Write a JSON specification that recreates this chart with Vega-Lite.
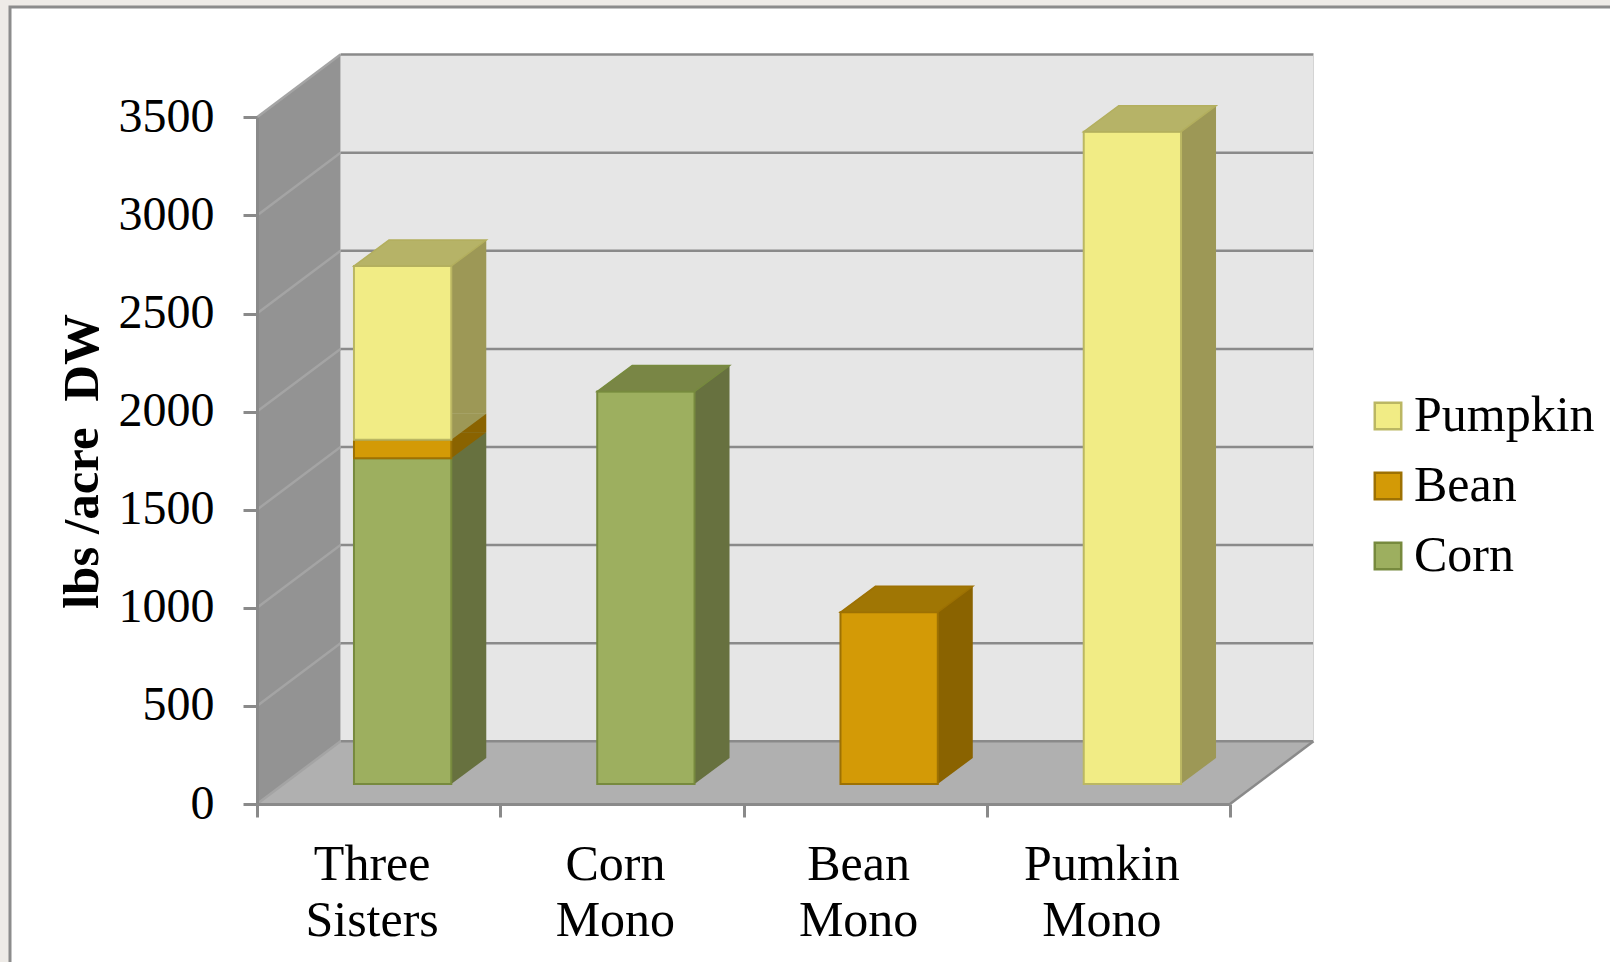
{
  "$schema": "https://vega.github.io/schema/vega-lite/v6.json",
  "width": 1600,
  "height": 955,
  "autosize": {"type": "none"},
  "padding": {"left": 10, "top": 7, "right": 0, "bottom": 0},
  "background": "#eeebe7",
  "config": {
    "view": {"fill": "#ffffff", "stroke": "#8c8c8c", "strokeWidth": 3, "strokeDash": [1600, 2555, 955]},
    "font": "Liberation Serif"
  },
  "datasets": {
    "yield": [
      {"system": "Three Sisters", "crop": "Corn", "lbs": 1660},
      {"system": "Three Sisters", "crop": "Bean", "lbs": 95},
      {"system": "Three Sisters", "crop": "Pumpkin", "lbs": 885},
      {"system": "Corn Mono", "crop": "Corn", "lbs": 2000},
      {"system": "Bean Mono", "crop": "Bean", "lbs": 875},
      {"system": "Pumkin Mono", "crop": "Pumpkin", "lbs": 3325}
    ],
    "grid": [
      {"v": 0}, {"v": 500}, {"v": 1000}, {"v": 1500},
      {"v": 2000}, {"v": 2500}, {"v": 3000}, {"v": 3500}
    ]
  },
  "resolve": {"scale": {"x": "independent"}, "axis": {"x": "independent"}},
  "layer": [
    {
      "layer": [
        {
          "data": {"values": [{}]},
          "mark": {"type": "rect", "fill": "#e6e6e6", "xOffset": 83.5, "x2Offset": 83.5, "yOffset": -62.7, "y2Offset": -62.7},
          "encoding": {
            "x": {"datum": 0, "type": "quantitative", "scale": {"domain": [0, 4], "range": [247, 1220], "nice": false, "zero": false}, "axis": null},
            "x2": {"datum": 4},
            "y": {"datum": 0, "type": "quantitative"},
            "y2": {"datum": 3500}
          }
        },
        {
          "data": {"values": [{}]},
          "mark": {"type": "point", "shape": "M0,0L0,-686.7L83.5,-749.4L83.5,-62.7Z", "size": 4, "filled": true, "fill": "#939393", "opacity": 1, "strokeWidth": 0},
          "encoding": {
            "x": {"datum": 0, "type": "quantitative", "axis": null},
            "y": {"datum": 0, "type": "quantitative"}
          }
        },
        {
          "data": {"values": [{}]},
          "mark": {"type": "point", "shape": "M0,0L973,0L1056.5,-62.7L83.5,-62.7Z", "size": 4, "filled": true, "fill": "#b0b0b0", "opacity": 1, "strokeWidth": 0},
          "encoding": {
            "x": {"datum": 0, "type": "quantitative", "axis": null},
            "y": {"datum": 0, "type": "quantitative"}
          }
        },
        {
          "data": {"name": "grid"},
          "mark": {"type": "rule", "color": "#8a8a8a", "strokeWidth": 2.5, "xOffset": 83.5, "x2Offset": 83.5, "yOffset": -62.7, "y2Offset": -62.7},
          "encoding": {
            "x": {"datum": 0, "type": "quantitative", "axis": null},
            "x2": {"datum": 4},
            "y": {"field": "v", "type": "quantitative"},
            "y2": {"field": "v"}
          }
        },
        {
          "data": {"name": "grid"},
          "mark": {"type": "rule", "color": "#a4a4a4", "strokeWidth": 2.5, "x2Offset": 83.5, "y2Offset": -62.7},
          "encoding": {
            "x": {"datum": 0, "type": "quantitative", "axis": null},
            "x2": {"datum": 0},
            "y": {"field": "v", "type": "quantitative"},
            "y2": {"field": "v"}
          }
        },
        {
          "data": {"values": [{}]},
          "mark": {"type": "rule", "color": "#8a8a8a", "strokeWidth": 2.5, "x2Offset": 83.5, "y2Offset": -62.7},
          "encoding": {
            "x": {"datum": 4, "type": "quantitative", "axis": null},
            "x2": {"datum": 4},
            "y": {"datum": 0, "type": "quantitative"},
            "y2": {"datum": 0}
          }
        },
        {
          "data": {"values": [{}]},
          "mark": {"type": "rule", "color": "#d4d4d4", "strokeWidth": 1, "xOffset": 83.5, "x2Offset": 83.5, "yOffset": -62.7, "y2Offset": -62.7},
          "encoding": {
            "x": {"datum": 4, "type": "quantitative", "axis": null},
            "x2": {"datum": 4},
            "y": {"datum": 0, "type": "quantitative"},
            "y2": {"datum": 3500}
          }
        }
      ]
    },
    {
      "data": {"name": "yield"},
      "transform": [
        {"stack": "lbs", "groupby": ["system"], "as": ["v0", "v1"], "offset": "zero"}
      ],
      "encoding": {
        "x": {
          "field": "system",
          "type": "nominal",
          "sort": ["Three Sisters", "Corn Mono", "Bean Mono", "Pumkin Mono"],
          "scale": {"range": [247, 1220], "paddingInner": 0, "paddingOuter": 0},
          "axis": {
            "title": null,
            "orient": "bottom",
            "offset": -158,
            "zindex": 1,
            "domainColor": "#8a8a8a",
            "domainWidth": 3,
            "tickColor": "#8a8a8a",
            "tickWidth": 3,
            "tickSize": 13,
            "tickBand": "extent",
            "labelAngle": 0,
            "labelFont": "Liberation Serif",
            "labelFontSize": 50,
            "labelColor": "#000000",
            "labelPadding": 22,
            "labelOffset": -7,
            "labelLineHeight": 56,
            "labelOverlap": false,
            "labelLimit": 0,
            "labelExpr": "split(datum.label, ' ')"
          }
        },
        "y": {
          "field": "v1",
          "type": "quantitative",
          "scale": {"domain": [0, 3500], "range": [797, 110.3], "nice": false},
          "axis": {
            "title": "lbs /acre\u00a0 DW",
            "orient": "left",
            "offset": -247,
            "zindex": 1,
            "values": [0, 500, 1000, 1500, 2000, 2500, 3000, 3500],
            "format": "d",
            "grid": false,
            "domainColor": "#8a8a8a",
            "domainWidth": 3,
            "tickColor": "#8a8a8a",
            "tickWidth": 3,
            "tickSize": 14,
            "labelFont": "Liberation Serif",
            "labelFontSize": 48,
            "labelColor": "#000000",
            "labelPadding": 29,
            "titleFont": "Liberation Serif",
            "titleFontSize": 51,
            "titleFontWeight": "bold",
            "titleColor": "#000000",
            "titleAngle": -90,
            "titleAlign": "center",
            "titleBaseline": "middle",
            "titleX": -175,
            "titleY": 454
          }
        }
      },
      "layer": [
        {
          "mark": {"type": "bar", "width": {"band": 0.4}, "xOffset": 59, "yOffset": -46, "y2Offset": -46},
          "encoding": {
            "y2": {"field": "v0"},
            "fill": {
              "condition": [
                {"test": "datum.crop === 'Corn'", "value": "#67713f"},
                {"test": "datum.crop === 'Bean'", "value": "#8a6300"}
              ],
              "value": "#9d9856"
            }
          }
        },
        {
          "mark": {"type": "point", "shape": "M72.65,-46L72.65,-20L107.65,-46Z", "size": 4, "filled": true, "opacity": 1, "strokeWidth": 0},
          "encoding": {
            "y": {"field": "v0", "type": "quantitative"},
            "fill": {
              "condition": [
                {"test": "datum.crop === 'Corn'", "value": "#67713f"},
                {"test": "datum.crop === 'Bean'", "value": "#8a6300"}
              ],
              "value": "#9d9856"
            }
          }
        },
        {
          "mark": {"type": "bar", "width": {"band": 0.4}, "xOffset": 24, "yOffset": -20, "y2Offset": -20, "strokeWidth": 2},
          "encoding": {
            "y2": {"field": "v0"},
            "fill": {
              "field": "crop",
              "type": "nominal",
              "scale": {"domain": ["Pumpkin", "Bean", "Corn"], "range": ["#f1ec85", "#d39a06", "#9daf5f"]},
              "legend": {
                "title": null,
                "orient": "none",
                "legendX": 1353,
                "legendY": 384,
                "direction": "vertical",
                "padding": 0,
                "symbolType": "square",
                "symbolSize": 700,
                "symbolStrokeWidth": 2.5,
                "labelFont": "Liberation Serif",
                "labelFontSize": 50,
                "labelColor": "#000000",
                "labelOffset": 1,
                "labelLimit": 0,
                "rowPadding": 20
              }
            },
            "stroke": {
              "field": "crop",
              "type": "nominal",
              "scale": {"domain": ["Pumpkin", "Bean", "Corn"], "range": ["#bbb763", "#9d7103", "#778a3e"]},
              "legend": {
                "title": null,
                "orient": "none",
                "legendX": 1353,
                "legendY": 384,
                "direction": "vertical",
                "padding": 0,
                "symbolType": "square",
                "symbolSize": 700,
                "symbolStrokeWidth": 2.5,
                "labelFont": "Liberation Serif",
                "labelFontSize": 50,
                "labelColor": "#000000",
                "labelOffset": 1,
                "labelLimit": 0,
                "rowPadding": 20
              }
            }
          }
        },
        {
          "transform": [
            {"joinaggregate": [{"op": "max", "field": "v1", "as": "peak"}], "groupby": ["system"]},
            {"filter": "datum.v1 === datum.peak"}
          ],
          "mark": {"type": "point", "shape": "M-24.65,-20L72.65,-20L107.65,-46L10.35,-46Z", "size": 4, "filled": true, "opacity": 1, "strokeWidth": 1.5},
          "encoding": {
            "fill": {
              "condition": [
                {"test": "datum.crop === 'Corn'", "value": "#798645"},
                {"test": "datum.crop === 'Bean'", "value": "#a07604"}
              ],
              "value": "#b6b367"
            },
            "stroke": {
              "condition": [
                {"test": "datum.crop === 'Corn'", "value": "#778a3e"},
                {"test": "datum.crop === 'Bean'", "value": "#9d7103"}
              ],
              "value": "#b3af5e"
            }
          }
        }
      ]
    }
  ]
}
